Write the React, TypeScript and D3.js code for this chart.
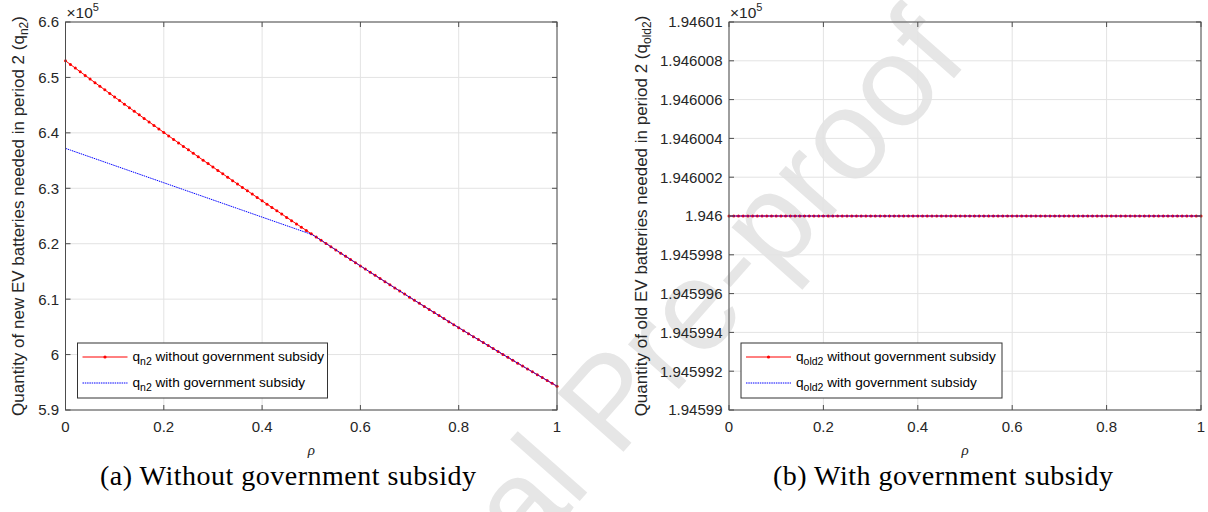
import React from "react";
import * as d3 from "d3";

// rho grid (x axis) and the four curves, values in units of 10^5
const rho = [
  0, 0.01, 0.02, 0.03, 0.04, 0.05, 0.06, 0.07, 0.08, 0.09,
  0.1, 0.11, 0.12, 0.13, 0.14, 0.15, 0.16, 0.17, 0.18, 0.19,
  0.2, 0.21, 0.22, 0.23, 0.24, 0.25, 0.26, 0.27, 0.28, 0.29,
  0.3, 0.31, 0.32, 0.33, 0.34, 0.35, 0.36, 0.37, 0.38, 0.39,
  0.4, 0.41, 0.42, 0.43, 0.44, 0.45, 0.46, 0.47, 0.48, 0.49,
  0.5, 0.51, 0.52, 0.53, 0.54, 0.55, 0.56, 0.57, 0.58, 0.59,
  0.6, 0.61, 0.62, 0.63, 0.64, 0.65, 0.66, 0.67, 0.68, 0.69,
  0.7, 0.71, 0.72, 0.73, 0.74, 0.75, 0.76, 0.77, 0.78, 0.79,
  0.8, 0.81, 0.82, 0.83, 0.84, 0.85, 0.86, 0.87, 0.88, 0.89,
  0.9, 0.91, 0.92, 0.93, 0.94, 0.95, 0.96, 0.97, 0.98, 0.99,
  1,
];

const qn2Without = [
  6.53, 6.5234, 6.5168, 6.5102, 6.5037, 6.4971, 6.4906, 6.4841, 6.4776, 6.4711,
  6.4646, 6.4582, 6.4517, 6.4453, 6.4389, 6.4325, 6.4261, 6.4198, 6.4134, 6.4071,
  6.4008, 6.3945, 6.3882, 6.3819, 6.3756, 6.3694, 6.3631, 6.3569, 6.3507, 6.3445,
  6.3384, 6.3322, 6.3261, 6.3199, 6.3138, 6.3077, 6.3016, 6.2956, 6.2895, 6.2835,
  6.2774, 6.2714, 6.2654, 6.2595, 6.2535, 6.2475, 6.2416, 6.2357, 6.2298, 6.2239,
  6.218, 6.2121, 6.2063, 6.2005, 6.1946, 6.1888, 6.183, 6.1773, 6.1715, 6.1658,
  6.16, 6.1543, 6.1486, 6.1429, 6.1373, 6.1316, 6.126, 6.1203, 6.1147, 6.1091,
  6.1036, 6.098, 6.0924, 6.0869, 6.0814, 6.0759, 6.0704, 6.0649, 6.0594, 6.054,
  6.0486, 6.0431, 6.0377, 6.0323, 6.027, 6.0216, 6.0163, 6.0109, 6.0056, 6.0003,
  5.995, 5.9898, 5.9845, 5.9793, 5.974, 5.9688, 5.9636, 5.9585, 5.9533, 5.9481,
  5.943,
];

const qn2With = [
  6.372, 6.3689, 6.3658, 6.3627, 6.3596, 6.3565, 6.3534, 6.3503, 6.3472, 6.3441,
  6.341, 6.3379, 6.3348, 6.3317, 6.3286, 6.3255, 6.3224, 6.3193, 6.3162, 6.3131,
  6.31, 6.3069, 6.3038, 6.3007, 6.2976, 6.2945, 6.2914, 6.2883, 6.2852, 6.2821,
  6.279, 6.2759, 6.2728, 6.2697, 6.2666, 6.2635, 6.2604, 6.2573, 6.2542, 6.2511,
  6.248, 6.2449, 6.2418, 6.2387, 6.2356, 6.2325, 6.2294, 6.2263, 6.2232, 6.2201,
  6.217, 6.2121, 6.2063, 6.2005, 6.1946, 6.1888, 6.183, 6.1773, 6.1715, 6.1658,
  6.16, 6.1543, 6.1486, 6.1429, 6.1373, 6.1316, 6.126, 6.1203, 6.1147, 6.1091,
  6.1036, 6.098, 6.0924, 6.0869, 6.0814, 6.0759, 6.0704, 6.0649, 6.0594, 6.054,
  6.0486, 6.0431, 6.0377, 6.0323, 6.027, 6.0216, 6.0163, 6.0109, 6.0056, 6.0003,
  5.995, 5.9898, 5.9845, 5.9793, 5.974, 5.9688, 5.9636, 5.9585, 5.9533, 5.9481,
  5.943,
];

const qold2Without = [
  1.946, 1.946, 1.946, 1.946, 1.946, 1.946, 1.946, 1.946, 1.946, 1.946,
  1.946, 1.946, 1.946, 1.946, 1.946, 1.946, 1.946, 1.946, 1.946, 1.946,
  1.946, 1.946, 1.946, 1.946, 1.946, 1.946, 1.946, 1.946, 1.946, 1.946,
  1.946, 1.946, 1.946, 1.946, 1.946, 1.946, 1.946, 1.946, 1.946, 1.946,
  1.946, 1.946, 1.946, 1.946, 1.946, 1.946, 1.946, 1.946, 1.946, 1.946,
  1.946, 1.946, 1.946, 1.946, 1.946, 1.946, 1.946, 1.946, 1.946, 1.946,
  1.946, 1.946, 1.946, 1.946, 1.946, 1.946, 1.946, 1.946, 1.946, 1.946,
  1.946, 1.946, 1.946, 1.946, 1.946, 1.946, 1.946, 1.946, 1.946, 1.946,
  1.946, 1.946, 1.946, 1.946, 1.946, 1.946, 1.946, 1.946, 1.946, 1.946,
  1.946, 1.946, 1.946, 1.946, 1.946, 1.946, 1.946, 1.946, 1.946, 1.946,
  1.946,
];

const qold2With = [
  1.946, 1.946, 1.946, 1.946, 1.946, 1.946, 1.946, 1.946, 1.946, 1.946,
  1.946, 1.946, 1.946, 1.946, 1.946, 1.946, 1.946, 1.946, 1.946, 1.946,
  1.946, 1.946, 1.946, 1.946, 1.946, 1.946, 1.946, 1.946, 1.946, 1.946,
  1.946, 1.946, 1.946, 1.946, 1.946, 1.946, 1.946, 1.946, 1.946, 1.946,
  1.946, 1.946, 1.946, 1.946, 1.946, 1.946, 1.946, 1.946, 1.946, 1.946,
  1.946, 1.946, 1.946, 1.946, 1.946, 1.946, 1.946, 1.946, 1.946, 1.946,
  1.946, 1.946, 1.946, 1.946, 1.946, 1.946, 1.946, 1.946, 1.946, 1.946,
  1.946, 1.946, 1.946, 1.946, 1.946, 1.946, 1.946, 1.946, 1.946, 1.946,
  1.946, 1.946, 1.946, 1.946, 1.946, 1.946, 1.946, 1.946, 1.946, 1.946,
  1.946, 1.946, 1.946, 1.946, 1.946, 1.946, 1.946, 1.946, 1.946, 1.946,
  1.946,
];

const xTicks = [0, 0.2, 0.4, 0.6, 0.8, 1];
const yTicksA = [5.9, 6, 6.1, 6.2, 6.3, 6.4, 6.5, 6.6];
const yTicksB = [
  1.94599, 1.945992, 1.945994, 1.945996, 1.945998, 1.946, 1.946002, 1.946004,
  1.946006, 1.946008, 1.94601,
];

const FONT = "'Liberation Sans', Arial, Helvetica, sans-serif";
const SERIF = "'Liberation Serif', 'Times New Roman', serif";
const AXIS = "#4d4d4d";
const TXT = "#262626";
const GRID = "#e3e3e3";

const fmt = (v: number) => String(+v.toFixed(7));

type PanelProps = {
  x0: number;
  x1: number;
  y0: number;
  y1: number;
  yTicks: number[];
  red: number[];
  blue: number[];
  sub: string;
  kind: string;
  labelX: number;
  legendW: number;
};

function Panel({ x0, x1, y0, y1, yTicks, red, blue, sub, kind, labelX, legendW }: PanelProps) {
  const x = d3.scaleLinear().domain([0, 1]).range([x0, x1]);
  const y = d3
    .scaleLinear()
    .domain([yTicks[0], yTicks[yTicks.length - 1]])
    .range([y1, y0]);
  const path = d3
    .line<number>()
    .x((_, i) => x(rho[i]))
    .y((v) => y(v));

  const lgX = x0 + 12;
  const lgY = 343;
  const rows = [
    { txt: " without government subsidy", color: "#ff0000", dots: true },
    { txt: " with government subsidy", color: "#0000ff", dots: false },
  ];

  return (
    <g>
      {/* grid */}
      {xTicks.map((t) => (
        <line key={"gx" + t} x1={x(t)} x2={x(t)} y1={y0} y2={y1} stroke={GRID} />
      ))}
      {yTicks.map((t) => (
        <line key={"gy" + t} x1={x0} x2={x1} y1={y(t)} y2={y(t)} stroke={GRID} />
      ))}

      {/* curves */}
      <path d={path(red) || ""} fill="none" stroke="#ff0000" strokeWidth={1} />
      {red.map((v, i) => (
        <circle key={"d" + i} cx={x(rho[i])} cy={y(v)} r={1.5} fill="#ff0000" />
      ))}
      <path
        d={path(blue) || ""}
        fill="none"
        stroke="#0000ff"
        strokeWidth={1}
        strokeDasharray="1.5 0.8"
      />

      {/* box and ticks */}
      <rect x={x0} y={y0} width={x1 - x0} height={y1 - y0} fill="none" stroke={AXIS} />
      {xTicks.map((t) => (
        <g key={"tx" + t}>
          <line x1={x(t)} x2={x(t)} y1={y1} y2={y1 - 5} stroke={AXIS} />
          <line x1={x(t)} x2={x(t)} y1={y0} y2={y0 + 5} stroke={AXIS} />
          <text x={x(t)} y={432} textAnchor="middle" fontSize={15} fill={TXT}>
            {fmt(t)}
          </text>
        </g>
      ))}
      {yTicks.map((t) => (
        <g key={"ty" + t}>
          <line x1={x0} x2={x0 + 5} y1={y(t)} y2={y(t)} stroke={AXIS} />
          <line x1={x1} x2={x1 - 5} y1={y(t)} y2={y(t)} stroke={AXIS} />
          <text x={x0 - 6.5} y={y(t)} dy="0.36em" textAnchor="end" fontSize={15} fill={TXT}>
            {fmt(t)}
          </text>
        </g>
      ))}

      {/* exponent */}
      <text x={x0 + 1} y={18} fontSize={15.5} fill={TXT}>
        ×10
        <tspan fontSize={11} dy={-7}>
          5
        </tspan>
      </text>

      {/* axis labels */}
      <text
        x={(x0 + x1) / 2}
        y={455}
        textAnchor="middle"
        fontSize={15}
        fontStyle="italic"
        fontFamily={SERIF}
        fill={TXT}
      >
        ρ
      </text>
      <text
        transform={`translate(${labelX},${(y0 + y1) / 2}) rotate(-90)`}
        textAnchor="middle"
        fontSize={17}
        fill={TXT}
      >
        {`Quantity of ${kind} EV batteries needed in period 2 (q`}
        <tspan fontSize={12} dy={4}>
          {sub}
        </tspan>
        <tspan dy={-4}>)</tspan>
      </text>

      {/* legend */}
      <rect x={lgX} y={lgY} width={legendW} height={55} fill="#fff" stroke="#333" />
      {rows.map((r, i) => {
        const cy = lgY + 14 + i * 26;
        return (
          <g key={"lg" + i}>
            <line
              x1={lgX + 5}
              x2={lgX + 50}
              y1={cy}
              y2={cy}
              stroke={r.color}
              strokeWidth={1}
              strokeDasharray={r.dots ? undefined : "1.5 0.8"}
            />
            {r.dots && <circle cx={lgX + 27.5} cy={cy} r={1.6} fill={r.color} />}
            <text x={lgX + 55} y={cy + 4} fontSize={13.6} fill="#000">
              q
              <tspan fontSize={10.5} dy={4}>
                {sub}
              </tspan>
              <tspan dy={-4}>{r.txt}</tspan>
            </text>
          </g>
        );
      })}
    </g>
  );
}

export default function App() {
  return (
    <svg
      width={1208}
      height={512}
      style={{ position: "absolute", left: 0, top: 0, background: "#fff" }}
      fontFamily={FONT}
    >
      <text
        transform="translate(970,60) rotate(-48.5)"
        textAnchor="end"
        fontSize={128}
        fill="#e6e6e6"
        fontFamily={FONT}
      >
        Journal Pre-proof
      </text>

      <Panel
        x0={65.5}
        x1={557}
        y0={22}
        y1={410}
        yTicks={yTicksA}
        red={qn2Without}
        blue={qn2With}
        sub="n2"
        kind="new"
        labelX={23.5}
        legendW={250}
      />
      <Panel
        x0={729}
        x1={1201}
        y0={22}
        y1={410}
        yTicks={yTicksB}
        red={qold2Without}
        blue={qold2With}
        sub="old2"
        kind="old"
        labelX={647}
        legendW={261}
      />

      <text x={100} y={485} fontSize={28} fontFamily={SERIF} fill="#000" textLength={376}>
        (a) Without government subsidy
      </text>
      <text x={773} y={485} fontSize={28} fontFamily={SERIF} fill="#000" textLength={340}>
        (b) With government subsidy
      </text>
    </svg>
  );
}
